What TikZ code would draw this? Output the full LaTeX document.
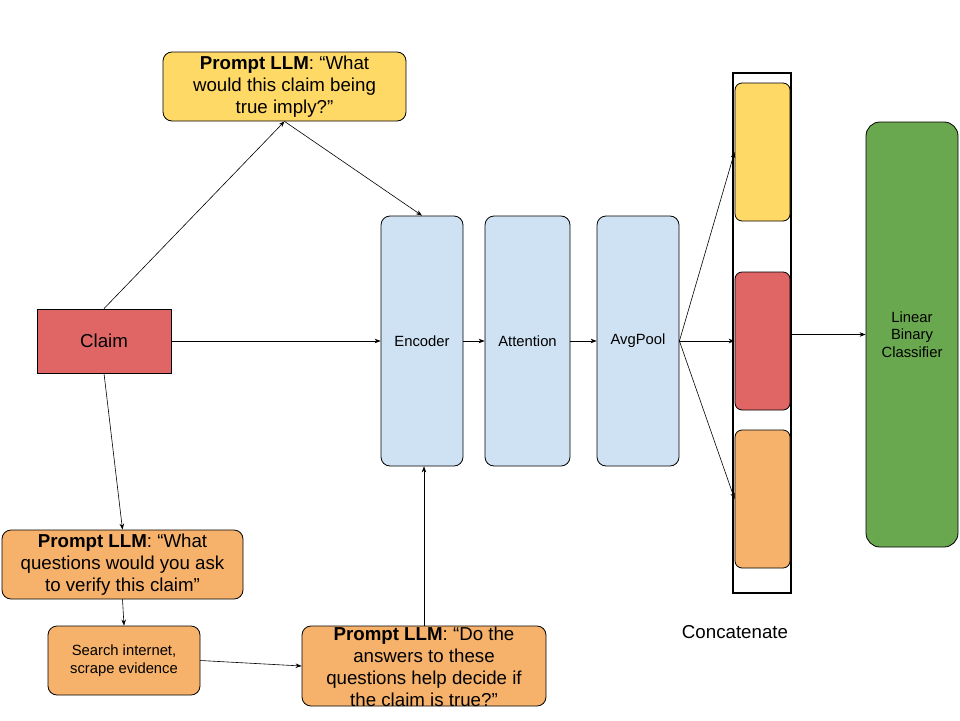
\documentclass[tikz,border=0pt]{standalone}
\usepackage{fontspec}
\setmainfont{Liberation Sans}
\usetikzlibrary{arrows.meta}
\definecolor{cyel}{HTML}{FFD966}
\definecolor{cred}{HTML}{E06666}
\definecolor{corg}{HTML}{F6B26B}
\definecolor{cblu}{HTML}{CFE2F3}
\definecolor{cgrn}{HTML}{6AA84F}
\tikzset{
  box/.style={draw=black, line width=0.8pt, rounded corners=9pt, inner sep=0pt, align=center,
    font=\fontsize{18.7}{22}\selectfont},
  smallbox/.style={box, font=\fontsize{14.8}{17.5}\selectfont},
  arr/.style={-{Stealth[length=6pt,width=4.5pt]}, line width=0.6pt, black},
}
\begin{document}
\begin{tikzpicture}[x=1pt,y=-1pt]
\useasboundingbox[fill=white] (0,0) rectangle (960,720);
% top yellow prompt
\node[box, fill=cyel, minimum width=243pt, minimum height=69pt] (top) at (284.5,86.5)
  {\textbf{Prompt LLM}: “What\\would this claim being\\true imply?”};
% claim
\node[box, rounded corners=0pt, fill=cred, minimum width=134pt, minimum height=64pt] (claim) at (104,341) {Claim};
% orange prompt 1
\node[box, fill=corg, minimum width=241pt, minimum height=69pt] (p1) at (122.5,564.5)
  {\textbf{Prompt LLM}: “What\\questions would you ask\\to verify this claim”};
% search
\node[smallbox, fill=corg, minimum width=152pt, minimum height=69pt] (search) at (124,660.5)
  {Search internet,\\scrape evidence};
% prompt 3
\node[box, fill=corg, minimum width=244pt, minimum height=80pt] (p3) at (424,666) {};
\node[align=center, inner sep=0pt, font=\fontsize{18.7}{22}\selectfont] (p3t) at (424,667)
  {\textbf{Prompt LLM}: “Do the\\answers to these\\questions help decide if\\the claim is true?”};
% blue blocks
\node[smallbox, fill=cblu, minimum width=82pt, minimum height=250pt] (enc) at (422,341) {Encoder};
\node[smallbox, fill=cblu, minimum width=85pt, minimum height=250pt] (att) at (527.5,341) {Attention};
\node[smallbox, fill=cblu, minimum width=82pt, minimum height=250pt] (avg) at (638,341) {AvgPool};
% concat
\node[draw=black, line width=2.8pt, minimum width=58pt, minimum height=520pt, inner sep=0pt] (cat) at (762,333) {};
\node[box, rounded corners=7pt, fill=cyel, minimum width=55pt, minimum height=138pt] (cy) at (762.5,152) {};
\node[box, rounded corners=7pt, fill=cred, minimum width=55pt, minimum height=138pt] (cr) at (762.5,341) {};
\node[box, rounded corners=7pt, fill=corg, minimum width=55pt, minimum height=138pt] (co) at (762.5,499) {};
\node[font=\fontsize{18.7}{22}\selectfont, inner sep=0pt] (catl) at (735,632) {Concatenate};
% classifier
\node[smallbox, rounded corners=14pt, fill=cgrn, minimum width=92pt, minimum height=425pt] (cls) at (912,334.5)
  {Linear\\Binary\\Classifier};
% arrows
\draw[arr] (claim.north) -- (top.south);
\draw[arr] (top.south) -- (enc.north);
\draw[arr] (claim.east) -- (enc.west);
\draw[arr] (claim.south) -- (p1.north);
\draw[arr] (p1.south) -- (search.north);
\draw[arr] (search.east) -- (p3.west);
\draw[arr] (p3.north) -- (p3.north |- enc.south);
\draw[arr] (enc.east) -- (att.west);
\draw[arr] (att.east) -- (avg.west);
\draw[arr] (avg.east) -- (cy.west);
\draw[arr] (avg.east) -- (cr.west);
\draw[arr] (avg.east) -- (co.west);
\draw[arr] (cls.west -| cat.east) -- (cls.west);
\end{tikzpicture}
\end{document}
